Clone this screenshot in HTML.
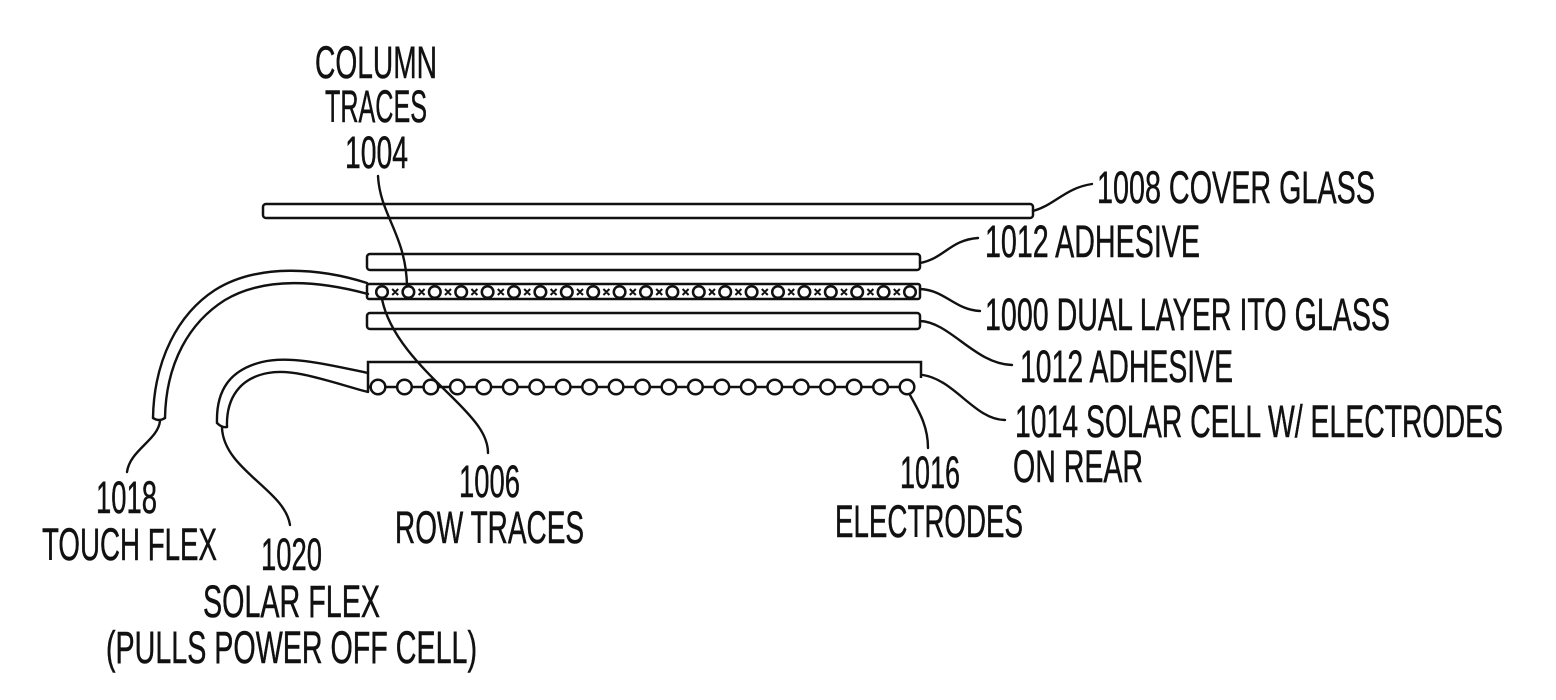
<!DOCTYPE html>
<html><head><meta charset="utf-8"><style>
html,body{margin:0;padding:0;background:#fff;}
svg{display:block;}
text{font-family:"Liberation Sans",sans-serif;font-size:45px;fill:#111;stroke:#111;stroke-width:0.5px;}
</style></head><body>
<svg width="1556" height="700" viewBox="0 0 1556 700" xmlns="http://www.w3.org/2000/svg">
<g fill="none" stroke="#111" stroke-width="2.5">
<!-- layers -->
<rect x="263" y="204" width="770" height="14" rx="3"/>
<rect x="367" y="254" width="553" height="16" rx="3"/>
<rect x="367" y="284" width="553" height="15" rx="2"/>
<rect x="367" y="313" width="553" height="16" rx="3"/>
<!-- solar cell -->
<path d="M368,392 V362 H921 V378"/>
<path d="M368,387 H914"/>
<!-- ITO x marks -->
<path stroke-width="2" d="M392.2,289l6,6m0,-6l-6,6 M418.6,289l6,6m0,-6l-6,6 M445,289l6,6m0,-6l-6,6 M471.4,289l6,6m0,-6l-6,6 M497.8,289l6,6m0,-6l-6,6 M524.2,289l6,6m0,-6l-6,6 M550.6,289l6,6m0,-6l-6,6 M577,289l6,6m0,-6l-6,6 M603.4,289l6,6m0,-6l-6,6 M629.8,289l6,6m0,-6l-6,6 M656.2,289l6,6m0,-6l-6,6 M682.6,289l6,6m0,-6l-6,6 M709,289l6,6m0,-6l-6,6 M735.4,289l6,6m0,-6l-6,6 M761.8,289l6,6m0,-6l-6,6 M788.2,289l6,6m0,-6l-6,6 M814.6,289l6,6m0,-6l-6,6 M841,289l6,6m0,-6l-6,6 M867.4,289l6,6m0,-6l-6,6 M893.8,289l6,6m0,-6l-6,6"/>
</g>
<!-- ITO circles -->
<g fill="#fff" stroke="#111" stroke-width="2.5">
<circle cx="382" cy="292" r="5.8"/><circle cx="408.4" cy="292" r="5.8"/><circle cx="434.8" cy="292" r="5.8"/><circle cx="461.2" cy="292" r="5.8"/><circle cx="487.6" cy="292" r="5.8"/><circle cx="514" cy="292" r="5.8"/><circle cx="540.4" cy="292" r="5.8"/><circle cx="566.8" cy="292" r="5.8"/><circle cx="593.2" cy="292" r="5.8"/><circle cx="619.6" cy="292" r="5.8"/><circle cx="646" cy="292" r="5.8"/><circle cx="672.4" cy="292" r="5.8"/><circle cx="698.8" cy="292" r="5.8"/><circle cx="725.2" cy="292" r="5.8"/><circle cx="751.6" cy="292" r="5.8"/><circle cx="778" cy="292" r="5.8"/><circle cx="804.4" cy="292" r="5.8"/><circle cx="830.8" cy="292" r="5.8"/><circle cx="857.2" cy="292" r="5.8"/><circle cx="883.6" cy="292" r="5.8"/><circle cx="910" cy="292" r="5.8"/>
</g>
<!-- solar circles -->
<g fill="#fff" stroke="#111" stroke-width="2.5">
<circle cx="378" cy="387" r="7.3"/><circle cx="404.45" cy="387" r="7.3"/><circle cx="430.9" cy="387" r="7.3"/><circle cx="457.35" cy="387" r="7.3"/><circle cx="483.8" cy="387" r="7.3"/><circle cx="510.25" cy="387" r="7.3"/><circle cx="536.7" cy="387" r="7.3"/><circle cx="563.15" cy="387" r="7.3"/><circle cx="589.6" cy="387" r="7.3"/><circle cx="616.05" cy="387" r="7.3"/><circle cx="642.5" cy="387" r="7.3"/><circle cx="668.95" cy="387" r="7.3"/><circle cx="695.4" cy="387" r="7.3"/><circle cx="721.85" cy="387" r="7.3"/><circle cx="748.3" cy="387" r="7.3"/><circle cx="774.75" cy="387" r="7.3"/><circle cx="801.2" cy="387" r="7.3"/><circle cx="827.65" cy="387" r="7.3"/><circle cx="854.1" cy="387" r="7.3"/><circle cx="880.55" cy="387" r="7.3"/><circle cx="907" cy="387" r="7.3"/>
</g>
<g fill="none" stroke="#111" stroke-width="2.4" stroke-linecap="round">
<!-- touch flex -->
<path d="M367,283 C320,268 258,263 215,290 C178,314 154,360 153,418"/>
<path d="M368,294 C320,281 265,276 225,300 C190,322 166,362 165,418"/>
<path d="M153,418 Q159,422 165,418"/>
<!-- solar flex -->
<path d="M368,373 C330,365 290,355 262,362 C230,370 216,390 217,423"/>
<path d="M368,392 C330,382 295,368 268,373 C240,378 226,398 227,427"/>
<path d="M217,423 Q222,428 227,427"/>
<!-- leaders -->
<path d="M160,421 C158,440 130,450 127,472"/>
<path d="M222,428 C224,470 285,490 290,525"/>
<path d="M378,176 C380,215 406,235 407,286"/>
<path d="M382,299 C390,340 430,375 455,400 C475,420 488,435 488,453"/>
<path d="M1033,211 C1055,205 1065,188 1092,184"/>
<path d="M920,263 C945,258 950,240 978,238"/>
<path d="M920,289 C945,290 955,310 980,311"/>
<path d="M920,321 C950,322 975,364 1012,365"/>
<path d="M923,375 C955,380 975,420 1005,420"/>
<path d="M910,395 C918,410 928,425 928,448"/>
</g>
<!-- labels -->
<text x="315" y="78" textLength="122" lengthAdjust="spacingAndGlyphs">COLUMN</text>
<text x="325" y="122" textLength="102" lengthAdjust="spacingAndGlyphs">TRACES</text>
<text x="345" y="168" textLength="63" lengthAdjust="spacingAndGlyphs">1004</text>
<text x="1097" y="203" textLength="278" lengthAdjust="spacingAndGlyphs">1008 COVER GLASS</text>
<text x="985" y="257" textLength="215" lengthAdjust="spacingAndGlyphs">1012 ADHESIVE</text>
<text x="985" y="330" textLength="405" lengthAdjust="spacingAndGlyphs">1000 DUAL LAYER ITO GLASS</text>
<text x="1020" y="382" textLength="213" lengthAdjust="spacingAndGlyphs">1012 ADHESIVE</text>
<text x="1015" y="437" textLength="488" lengthAdjust="spacingAndGlyphs">1014 SOLAR CELL W/ ELECTRODES</text>
<text x="1013" y="482" textLength="130" lengthAdjust="spacingAndGlyphs">ON REAR</text>
<text x="900" y="488" textLength="60" lengthAdjust="spacingAndGlyphs">1016</text>
<text x="835" y="537" textLength="188" lengthAdjust="spacingAndGlyphs">ELECTRODES</text>
<text x="459" y="497" textLength="61" lengthAdjust="spacingAndGlyphs">1006</text>
<text x="395" y="543" textLength="189" lengthAdjust="spacingAndGlyphs">ROW TRACES</text>
<text x="96" y="513" textLength="61" lengthAdjust="spacingAndGlyphs">1018</text>
<text x="42" y="560" textLength="175" lengthAdjust="spacingAndGlyphs">TOUCH FLEX</text>
<text x="261" y="570" textLength="61" lengthAdjust="spacingAndGlyphs">1020</text>
<text x="203" y="617" textLength="177" lengthAdjust="spacingAndGlyphs">SOLAR FLEX</text>
<text x="106" y="663" textLength="371" lengthAdjust="spacingAndGlyphs">(PULLS POWER OFF CELL)</text>
</svg>
</body></html>
